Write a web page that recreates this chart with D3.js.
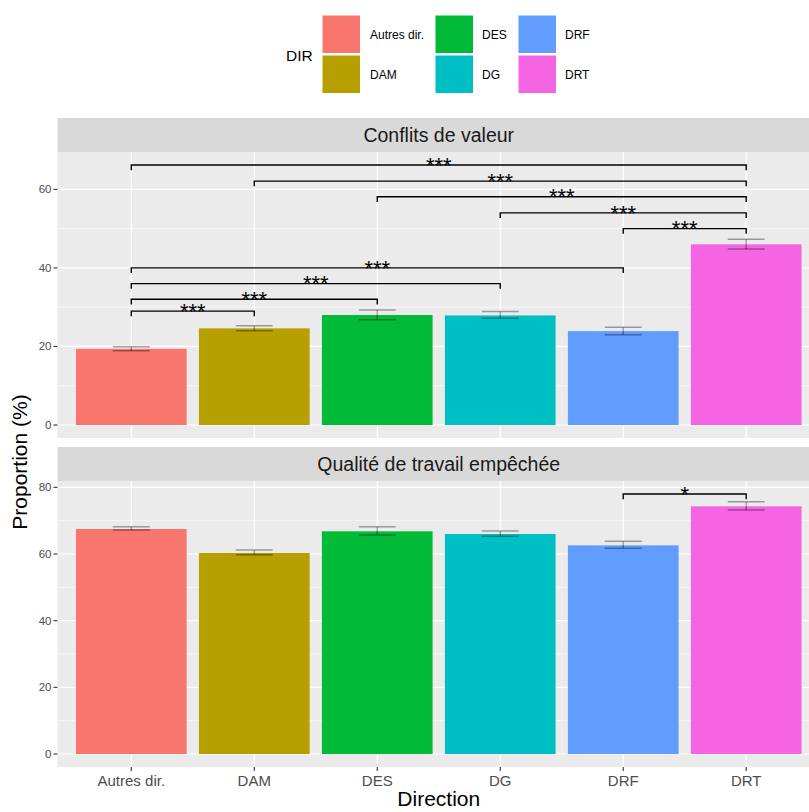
<!DOCTYPE html>
<html>
<head>
<meta charset="utf-8">
<script src="https://cdn.jsdelivr.net/npm/d3@7"></script>
<style>
  html, body { margin: 0; padding: 0; background: #fff; }
  svg { display: block; font-family: "Liberation Sans", Arial, sans-serif; }
</style>
</head>
<body>
<svg id="chart" width="809" height="812"></svg>
<script>
// ---------- DATA ----------
const categories = ["Autres dir.", "DAM", "DES", "DG", "DRF", "DRT"];
const colors = ["#F8766D", "#B79F00", "#00BA38", "#00BFC4", "#619CFF", "#F564E3"];
const legendTitle = "DIR";
const xTitle = "Direction";
const yTitle = "Proportion (%)";

const panelTitles = ["Conflits de valeur", "Qualité de travail empêchée"];

const conflitsValues = [19.4, 24.6, 28.0, 27.9, 23.9, 46.0];
const conflitsLower  = [18.9, 24.0, 26.8, 27.2, 23.0, 44.8];
const conflitsUpper  = [19.9, 25.3, 29.3, 28.9, 24.9, 47.3];

const qualiteValues = [67.5, 60.3, 66.8, 66.0, 62.6, 74.3];
const qualiteLower  = [67.2, 59.8, 65.7, 65.3, 61.7, 73.2];
const qualiteUpper  = [68.2, 61.2, 68.2, 66.9, 63.8, 75.7];

const conflitsBrackets = [
  { from: "Autres dir.", to: "DRT", y: 66.2, label: "***" },
  { from: "DAM",         to: "DRT", y: 62.1, label: "***" },
  { from: "DES",         to: "DRT", y: 58.1, label: "***" },
  { from: "DG",          to: "DRT", y: 54.0, label: "***" },
  { from: "DRF",         to: "DRT", y: 50.0, label: "***" },
  { from: "Autres dir.", to: "DRF", y: 40.0, label: "***" },
  { from: "Autres dir.", to: "DG",  y: 36.0, label: "***" },
  { from: "Autres dir.", to: "DES", y: 32.0, label: "***" },
  { from: "Autres dir.", to: "DAM", y: 29.0, label: "***" }
];
const qualiteBrackets = [
  { from: "DRF", to: "DRT", y: 78.0, label: "*" }
];

const conflitsTicks = [0, 20, 40, 60];
const conflitsMinor = [10, 30, 50];
const qualiteTicks = [0, 20, 40, 60, 80];
const qualiteMinor = [10, 30, 50, 70];

// ---------- LAYOUT ----------
const svg = d3.select("#chart");
const panelLeft = 57.5, panelRight = 820;
const x = d3.scalePoint().domain(categories).range([panelLeft, panelRight]).padding(0.6);
const step = x.step();
const barW = step * 0.9;
const capW = step * 0.3;
const color = d3.scaleOrdinal().domain(categories).range(colors);

const panels = [
  { title: panelTitles[0], values: conflitsValues, lower: conflitsLower, upper: conflitsUpper,
    brackets: conflitsBrackets, ticks: conflitsTicks, minor: conflitsMinor,
    stripTop: 118, top: 152, bottom: 438 },
  { title: panelTitles[1], values: qualiteValues, lower: qualiteLower, upper: qualiteUpper,
    brackets: qualiteBrackets, ticks: qualiteTicks, minor: qualiteMinor,
    stripTop: 447, top: 481, bottom: 767 }
];

panels.forEach((p, pi) => {
  const maxV = d3.max([...p.upper, ...p.brackets.map(b => b.y)]);
  const pad = maxV * 0.05;
  const y = d3.scaleLinear().domain([-pad, maxV + pad]).range([p.bottom, p.top]);
  const g = svg.append("g");

  // strip
  g.append("rect").attr("x", panelLeft).attr("y", p.stripTop)
    .attr("width", panelRight - panelLeft).attr("height", p.top - p.stripTop)
    .attr("fill", "#D9D9D9");
  g.append("text").attr("x", (panelLeft + panelRight) / 2).attr("y", (p.stripTop + p.top) / 2 + 7)
    .attr("text-anchor", "middle").attr("font-size", 19.5).attr("fill", "#1A1A1A").text(p.title);

  // panel background
  g.append("rect").attr("x", panelLeft).attr("y", p.top)
    .attr("width", panelRight - panelLeft).attr("height", p.bottom - p.top)
    .attr("fill", "#EBEBEB");

  // grid
  g.selectAll(".minor").data(p.minor).join("line")
    .attr("x1", panelLeft).attr("x2", panelRight)
    .attr("y1", d => y(d)).attr("y2", d => y(d))
    .attr("stroke", "#fff").attr("stroke-width", 0.6);
  g.selectAll(".major").data(p.ticks).join("line")
    .attr("x1", panelLeft).attr("x2", panelRight)
    .attr("y1", d => y(d)).attr("y2", d => y(d))
    .attr("stroke", "#fff").attr("stroke-width", 1.2);
  g.selectAll(".vgrid").data(categories).join("line")
    .attr("x1", d => x(d)).attr("x2", d => x(d))
    .attr("y1", p.top).attr("y2", p.bottom)
    .attr("stroke", "#fff").attr("stroke-width", 1.2);

  // bars
  g.selectAll(".bar").data(categories).join("rect")
    .attr("x", d => x(d) - barW / 2).attr("width", barW)
    .attr("y", (d, i) => y(p.values[i]))
    .attr("height", (d, i) => y(0) - y(p.values[i]))
    .attr("fill", d => color(d));

  // error bars
  const eb = g.selectAll(".eb").data(categories).join("g")
    .attr("stroke", "#000").attr("stroke-opacity", 0.35).attr("stroke-width", 1.5);
  eb.append("line").attr("x1", d => x(d) - capW / 2).attr("x2", d => x(d) + capW / 2)
    .attr("y1", (d, i) => y(p.upper[i])).attr("y2", (d, i) => y(p.upper[i]));
  eb.append("line").attr("x1", d => x(d) - capW / 2).attr("x2", d => x(d) + capW / 2)
    .attr("y1", (d, i) => y(p.lower[i])).attr("y2", (d, i) => y(p.lower[i]));
  eb.append("line").attr("x1", d => x(d)).attr("x2", d => x(d))
    .attr("y1", (d, i) => y(p.upper[i])).attr("y2", (d, i) => y(p.lower[i]));

  // brackets
  const tip = maxV * 0.02;
  const bg = g.selectAll(".br").data(p.brackets).join("g");
  bg.append("path")
    .attr("d", d => `M${x(d.from)},${y(d.y - tip)}V${y(d.y)}H${x(d.to)}V${y(d.y - tip)}`)
    .attr("fill", "none").attr("stroke", "#000").attr("stroke-width", 1.4);
  const starFs = 22;
  bg.append("text")
    .attr("x", d => (x(d.from) + x(d.to)) / 2)
    .attr("y", d => y(d.y) + starFs * 0.575 - 5)
    .attr("text-anchor", "middle").attr("font-size", starFs).attr("fill", "#000")
    .text(d => d.label);

  // y axis
  const ya = g.append("g");
  ya.selectAll("line").data(p.ticks).join("line")
    .attr("x1", panelLeft - 4).attr("x2", panelLeft)
    .attr("y1", d => y(d)).attr("y2", d => y(d))
    .attr("stroke", "#333").attr("stroke-width", 1.1);
  ya.selectAll("text").data(p.ticks).join("text")
    .attr("x", panelLeft - 6).attr("y", d => y(d) + 4)
    .attr("text-anchor", "end").attr("font-size", 11.5).attr("fill", "#4D4D4D")
    .text(d => d);

  // x axis on bottom panel only
  if (pi === panels.length - 1) {
    const xa = g.append("g");
    xa.selectAll("line").data(categories).join("line")
      .attr("x1", d => x(d)).attr("x2", d => x(d))
      .attr("y1", p.bottom).attr("y2", p.bottom + 4)
      .attr("stroke", "#333").attr("stroke-width", 1.1);
    xa.selectAll("text").data(categories).join("text")
      .attr("x", d => x(d)).attr("y", p.bottom + 19)
      .attr("text-anchor", "middle").attr("font-size", 15).attr("fill", "#4D4D4D")
      .text(d => d);
  }
});

// axis titles
svg.append("text").attr("x", (panelLeft + panelRight) / 2).attr("y", 806)
  .attr("text-anchor", "middle").attr("font-size", 21).attr("fill", "#000").text(xTitle);
svg.append("text").attr("transform", "translate(27,462) rotate(-90)")
  .attr("text-anchor", "middle").attr("font-size", 21).attr("fill", "#000").text(yTitle);

// legend
const leg = svg.append("g");
leg.append("text").attr("x", 286).attr("y", 61).attr("font-size", 15.5).attr("fill", "#000").text(legendTitle);
const colX = [322, 435, 518];
const labX = [370, 482, 565];
categories.forEach((c, i) => {
  const col = Math.floor(i / 2), row = i % 2;
  const ky = 15 + row * 40;
  leg.append("rect").attr("x", colX[col]).attr("y", ky).attr("width", 38.5).attr("height", 38.5)
    .attr("fill", color(c)).attr("stroke", "#fff").attr("stroke-width", 1);
  leg.append("text").attr("x", labX[col]).attr("y", ky + 19 + 4.5)
    .attr("font-size", 12).attr("fill", "#000").text(c);
});
</script>
</body>
</html>
